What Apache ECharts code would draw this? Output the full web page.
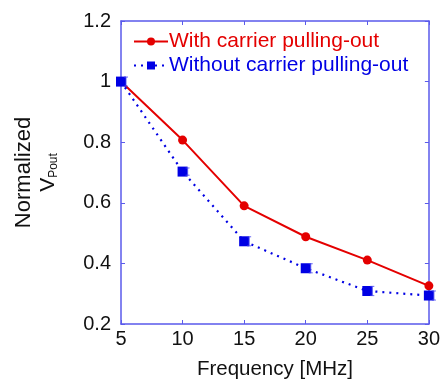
<!DOCTYPE html>
<html><head><meta charset="utf-8">
<script src="https://cdn.jsdelivr.net/npm/echarts@6/dist/echarts.min.js"></script>
<style>html,body{margin:0;padding:0;background:#fff}#c{width:443px;height:385px}</style>
</head><body><div id="c"></div>
<script>
const freqs = [5, 10, 15, 20, 25, 30];
const withPull = [1.0, 0.807, 0.59, 0.488, 0.411, 0.326];
const withoutPull = [1.0, 0.703, 0.473, 0.384, 0.309, 0.294];
const withoutErr = [0.015, 0.012, 0.015, 0.015, 0.015, 0.015];
const yTicks = [0.2, 0.4, 0.6, 0.8, 1, 1.2];
const xTicks = [5, 10, 15, 20, 25, 30];
const nameWith = 'With carrier pulling-out';
const nameWithout = 'Without carrier pulling-out';

const RED = 'rgb(228,0,0)';
const BLUE = 'rgb(0,0,228)';
const AX = 'rgb(90,90,235)';
const TXT = '#111';
const FONT = '"Liberation Sans", Arial, sans-serif';

const chart = echarts.init(document.getElementById('c'), null, {renderer: 'canvas'});
const hiddenAxis = {show: true, axisLine: {show: true, lineStyle: {color: AX, width: 1.5}}, axisTick: {show: true, inside: true, length: 4, lineStyle: {color: AX}}, axisLabel: {show: false}, splitLine: {show: false}};
chart.setOption({
  animation: false,
  grid: {left: 121, top: 21, right: 13, bottom: 56, containLabel: false},
  legend: {
    left: 128, top: 26, orient: 'vertical', itemGap: 3, itemWidth: 34, itemHeight: 10,
    textStyle: {fontFamily: FONT, fontSize: 21, padding: [0, 0, 0, -4]},
    data: [
      {name: nameWith, textStyle: {color: RED}},
      {name: nameWithout, textStyle: {color: BLUE}}
    ]
  },
  xAxis: [{
    type: 'value', min: 5, max: 30, interval: 5,
    name: 'Frequency [MHz]', nameLocation: 'middle', nameGap: 35,
    nameTextStyle: {fontFamily: FONT, fontSize: 20.5, color: TXT},
    axisLine: {lineStyle: {color: AX, width: 1.5}},
    axisTick: {inside: true, length: 4, lineStyle: {color: AX}},
    axisLabel: {fontFamily: FONT, fontSize: 20, color: TXT, margin: 5,
      formatter: v => xTicks.includes(v) ? String(v) : ''},
    splitLine: {show: false}
  }, Object.assign({type: 'value', position: 'top', min: 5, max: 30, interval: 5}, hiddenAxis)],
  yAxis: [{
    type: 'value', min: 0.2, max: 1.2, interval: 0.2,
    name: '{a|Normalized}\n{v|V}{s|Pout}', nameLocation: 'middle', nameGap: 61,
    nameTextStyle: {fontFamily: FONT, color: TXT, align: 'center',
      rich: {
        a: {fontFamily: FONT, fontSize: 22, color: TXT, lineHeight: 24},
        v: {fontFamily: FONT, fontSize: 21, color: TXT, lineHeight: 24},
        s: {fontFamily: FONT, fontSize: 12, color: TXT, lineHeight: 24, padding: [11, 0, 0, 0]}
      }},
    axisLine: {show: true, lineStyle: {color: AX, width: 1.5}},
    axisTick: {show: true, inside: true, length: 4, lineStyle: {color: AX}},
    axisLabel: {fontFamily: FONT, fontSize: 20, color: TXT, margin: 10,
      formatter: v => { const t = yTicks.find(y => Math.abs(y - v) < 1e-6); return t === undefined ? '' : String(t); }},
    splitLine: {show: false}
  }, Object.assign({type: 'value', position: 'right', min: 0.2, max: 1.2, interval: 0.2}, hiddenAxis)],
  series: [
    {
      name: nameWith, type: 'line', xAxisIndex: 0, yAxisIndex: 0,
      data: freqs.map((f, i) => [f, withPull[i]]),
      symbol: 'circle', symbolSize: 9,
      itemStyle: {color: RED}, lineStyle: {color: RED, width: 2}, z: 2
    },
    {
      name: nameWithout, type: 'line', xAxisIndex: 0, yAxisIndex: 0,
      data: freqs.map((f, i) => [f, withoutPull[i]]),
      symbol: 'rect', symbolSize: 10,
      itemStyle: {color: BLUE}, lineStyle: {color: BLUE, width: 2.2, type: [2, 5]}, z: 3
    },
    {
      type: 'custom', xAxisIndex: 0, yAxisIndex: 0, z: 4, silent: true,
      data: freqs.map((f, i) => [f, withoutPull[i], withoutErr[i]]),
      renderItem: (params, api) => {
        const x = api.value(0), y = api.value(1), e = api.value(2);
        const top = api.coord([x, y + e]);
        const bot = api.coord([x, y - e]);
        const px = top[0] + 5;
        const st = {stroke: 'rgba(70,70,240,0.7)', lineWidth: 1.2};
        return {type: 'group', children: [
          {type: 'line', shape: {x1: px, y1: top[1], x2: px, y2: bot[1]}, style: st},
          {type: 'line', shape: {x1: px - 2, y1: top[1], x2: px + 2, y2: top[1]}, style: st},
          {type: 'line', shape: {x1: px - 2, y1: bot[1], x2: px + 2, y2: bot[1]}, style: st}
        ]};
      }
    }
  ]
});
</script></body></html>
